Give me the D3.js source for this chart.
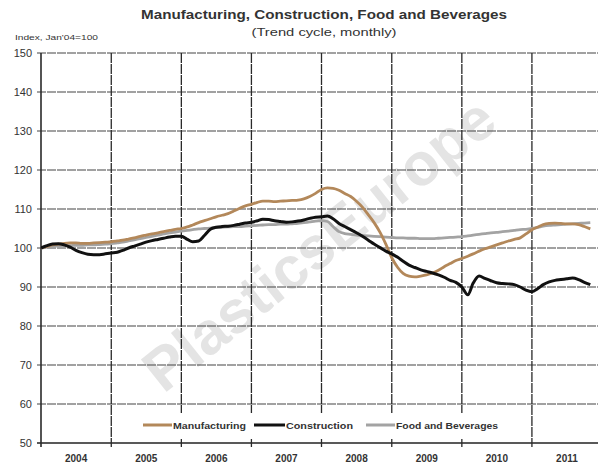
<!DOCTYPE html>
<html>
<head>
<meta charset="utf-8">
<script src="https://cdn.jsdelivr.net/npm/d3@7"></script>
<style>
  html, body { margin: 0; padding: 0; background: #fff; }
  svg { display: block; font-family: "Liberation Sans", Arial, sans-serif; }
</style>
</head>
<body>
<svg id="chart" width="598" height="464"></svg>
<script>
// ---- data (monthly, Jan 2004 .. Nov 2011) ----
const startYear = 2004;
const years = ["2004","2005","2006","2007","2008","2009","2010","2011"];
const yTicks = [50,60,70,80,90,100,110,120,130,140,150];
const seriesNames = ["Manufacturing","Construction","Food and Beverages"];

const manufacturing = [
  100, 100.4, 100.8, 101, 101.2, 101.3, 101.3, 101.2, 101.2, 101.3, 101.4, 101.5,
  101.6, 101.8, 102, 102.3, 102.6, 103, 103.3, 103.6, 103.9, 104.2, 104.5, 104.8,
  105, 105.4, 105.9, 106.5, 107, 107.5, 108, 108.4, 108.8, 109.5, 110.2, 110.8,
  111.2, 111.7, 112, 112, 111.9, 112, 112.1, 112.2, 112.3, 112.6, 113.2, 114,
  115, 115.4, 115.3, 114.8, 114, 113.2, 112, 110.5, 108.5, 106.5, 104, 101,
  97.5, 95, 93.5, 92.8, 92.6, 92.8, 93.1, 93.6, 94.3, 95.2, 96, 96.8,
  97.3, 97.9, 98.5, 99.2, 99.8, 100.3, 100.8, 101.3, 101.8, 102.2, 102.6, 103.6,
  104.7, 105.4, 106, 106.3, 106.4, 106.3, 106.2, 106.2, 106, 105.5, 104.9
];
const construction = [
  100, 100.6, 101, 101.1, 100.8, 100.2, 99.4, 98.8, 98.4, 98.3, 98.3, 98.5,
  98.7, 98.9, 99.4, 100, 100.5, 101, 101.5, 101.9, 102.2, 102.5, 102.8, 103,
  103, 102.2, 101.6, 101.8, 103.2, 104.8, 105.3, 105.5, 105.6, 105.8, 106.1, 106.4,
  106.6, 107, 107.4, 107.3, 107, 106.8, 106.6, 106.7, 106.9, 107.2, 107.6, 107.9,
  108, 108.2, 107.5, 106.3, 105.5, 104.7, 103.9, 103, 102, 101, 100.1, 99.2,
  98.5, 97.6, 96.6, 95.6, 95, 94.4, 94, 93.6, 93.1, 92.5, 91.7, 91.2,
  90, 88, 91, 92.8, 92.2, 91.6, 91.1, 90.9, 90.8, 90.6, 90, 89.2,
  88.8, 89.6, 90.6, 91.3, 91.7, 91.9, 92.1, 92.3, 91.9, 91.2, 90.6
];
const foodBeverages = [
  100, 100.2, 100.4, 100.5, 100.6, 100.6, 100.7, 100.7, 100.8, 100.8, 100.9, 101,
  101.1, 101.3, 101.5, 101.8, 102.1, 102.4, 102.7, 103, 103.3, 103.6, 103.9, 104.1,
  104.3, 104.5, 104.7, 104.9, 105, 105.1, 105.2, 105.3, 105.4, 105.5, 105.5, 105.6,
  105.7, 105.8, 105.9, 106, 106, 106.1, 106.1, 106.2, 106.3, 106.5, 106.7, 106.9,
  107, 106.8, 105.5, 104.2, 103.7, 103.5, 103.3, 103.2, 103.1, 103, 102.9, 102.8,
  102.7, 102.6, 102.6, 102.5, 102.5, 102.4, 102.4, 102.4, 102.5, 102.6, 102.7, 102.8,
  102.9, 103.1, 103.3, 103.5, 103.7, 103.9, 104, 104.2, 104.3, 104.5, 104.7, 104.8,
  105, 105.3, 105.6, 105.8, 105.9, 106, 106.1, 106.2, 106.3, 106.4, 106.5
];
const seriesColors = ["#b3885a", "#111111", "#a3a3a3"];

// ---- layout ----
const svg = d3.select("#chart");
const W = 598, H = 464;
const pLeft = 41, pRight = 602, pTop = 53, pBottom = 443;

const x = d3.scaleTime()
  .domain([new Date(startYear, 0, 1), new Date(startYear + years.length, 0, 1)])
  .range([pLeft, pRight]);
const y = d3.scaleLinear().domain([50, 150]).range([pBottom, pTop]);

svg.append("rect").attr("width", W).attr("height", H).attr("fill", "#fff");

// watermark
svg.append("text")
  .attr("transform", "translate(322,248) rotate(-38.5)")
  .attr("text-anchor", "middle")
  .attr("dominant-baseline", "middle")
  .attr("font-size", 60)
  .attr("font-weight", "bold")
  .attr("fill", "#e4e4e4")
  .attr("textLength", 430)
  .attr("lengthAdjust", "spacingAndGlyphs")
  .text("PlasticsEurope");

// horizontal gridlines
const grid = svg.append("g");
grid.selectAll("line.h").data(yTicks).join("line")
  .attr("x1", pLeft - 4).attr("x2", pRight)
  .attr("y1", d => y(d)).attr("y2", d => y(d))
  .attr("stroke", d => d === 50 ? "#222" : "#444")
  .attr("stroke-width", d => d === 50 ? 1.5 : 1.1)
  .attr("stroke-dasharray", d => d === 50 ? null : "9,1");

// vertical year boundaries
const yearStarts = years.map((s, i) => new Date(startYear + i, 0, 1));
grid.selectAll("line.v").data(yearStarts).join("line")
  .attr("x1", d => x(d)).attr("x2", d => x(d))
  .attr("y1", pTop).attr("y2", pBottom + 4)
  .attr("stroke", "#2a2a2a")
  .attr("stroke-width", (d, i) => i === 0 ? 1.6 : 1.3)
  .attr("stroke-dasharray", (d, i) => i === 0 ? null : "10,1");

// y tick labels
svg.append("g").selectAll("text").data(yTicks).join("text")
  .attr("x", 32).attr("y", d => y(d) + 4)
  .attr("text-anchor", "end")
  .attr("font-size", 11)
  .attr("fill", "#333")
  .text(d => d);

// x labels (centered in each year)
svg.append("g").selectAll("text").data(years).join("text")
  .attr("x", (d, i) => (x(new Date(startYear + i, 0, 1)) + x(new Date(startYear + i + 1, 0, 1))) / 2)
  .attr("y", 462)
  .attr("text-anchor", "middle")
  .attr("font-size", 10)
  .attr("font-weight", "bold")
  .attr("fill", "#333")
  .text(d => d);

// lines
svg.append("clipPath").attr("id", "clip").append("rect")
  .attr("x", pLeft).attr("y", pTop).attr("width", pRight - pLeft).attr("height", pBottom - pTop);

const line = d3.line()
  .x((d, i) => x(new Date(startYear, i, 1)))
  .y(d => y(d))
  .curve(d3.curveMonotoneX);

const allSeries = [foodBeverages, manufacturing, construction];
const order = [2, 0, 1];
svg.append("g").attr("clip-path", "url(#clip)")
  .selectAll("path").data(allSeries).join("path")
  .attr("d", d => line(d))
  .attr("fill", "none")
  .attr("stroke", (d, i) => seriesColors[order[i]])
  .attr("stroke-width", (d, i) => order[i] === 1 ? 3 : 2.8)
  .attr("stroke-linejoin", "round");

// legend box
svg.append("rect")
  .attr("x", 116).attr("y", 413).attr("width", 412).attr("height", 26)
  .attr("fill", "#fff");

const legendItems = [
  {name: seriesNames[0], color: seriesColors[0], x0: 143, x1: 172, tx: 173, tl: 73},
  {name: seriesNames[1], color: seriesColors[1], x0: 254, x1: 285, tx: 286, tl: 67},
  {name: seriesNames[2], color: seriesColors[2], x0: 366, x1: 395, tx: 396, tl: 102}
];
const lg = svg.append("g");
lg.selectAll("line").data(legendItems).join("line")
  .attr("x1", d => d.x0).attr("x2", d => d.x1)
  .attr("y1", 425).attr("y2", 425)
  .attr("stroke", d => d.color).attr("stroke-width", 3);
lg.selectAll("text").data(legendItems).join("text")
  .attr("x", d => d.tx).attr("y", 428.5)
  .attr("font-size", 8.5).attr("font-weight", "bold").attr("fill", "#333")
  .attr("textLength", d => d.tl).attr("lengthAdjust", "spacingAndGlyphs")
  .text(d => d.name);

// titles
svg.append("text")
  .attr("x", 324).attr("y", 19)
  .attr("text-anchor", "middle")
  .attr("font-size", 12.5).attr("font-weight", "bold").attr("fill", "#333")
  .attr("textLength", 366).attr("lengthAdjust", "spacingAndGlyphs")
  .text("Manufacturing, Construction, Food and Beverages");
svg.append("text")
  .attr("x", 324).attr("y", 36)
  .attr("text-anchor", "middle")
  .attr("font-size", 11).attr("fill", "#333")
  .attr("textLength", 145).attr("lengthAdjust", "spacingAndGlyphs")
  .text("(Trend cycle, monthly)");
svg.append("text")
  .attr("x", 15).attr("y", 40)
  .attr("font-size", 7.5).attr("fill", "#333")
  .attr("textLength", 83).attr("lengthAdjust", "spacingAndGlyphs")
  .text("Index, Jan'04=100");
</script>
</body>
</html>
